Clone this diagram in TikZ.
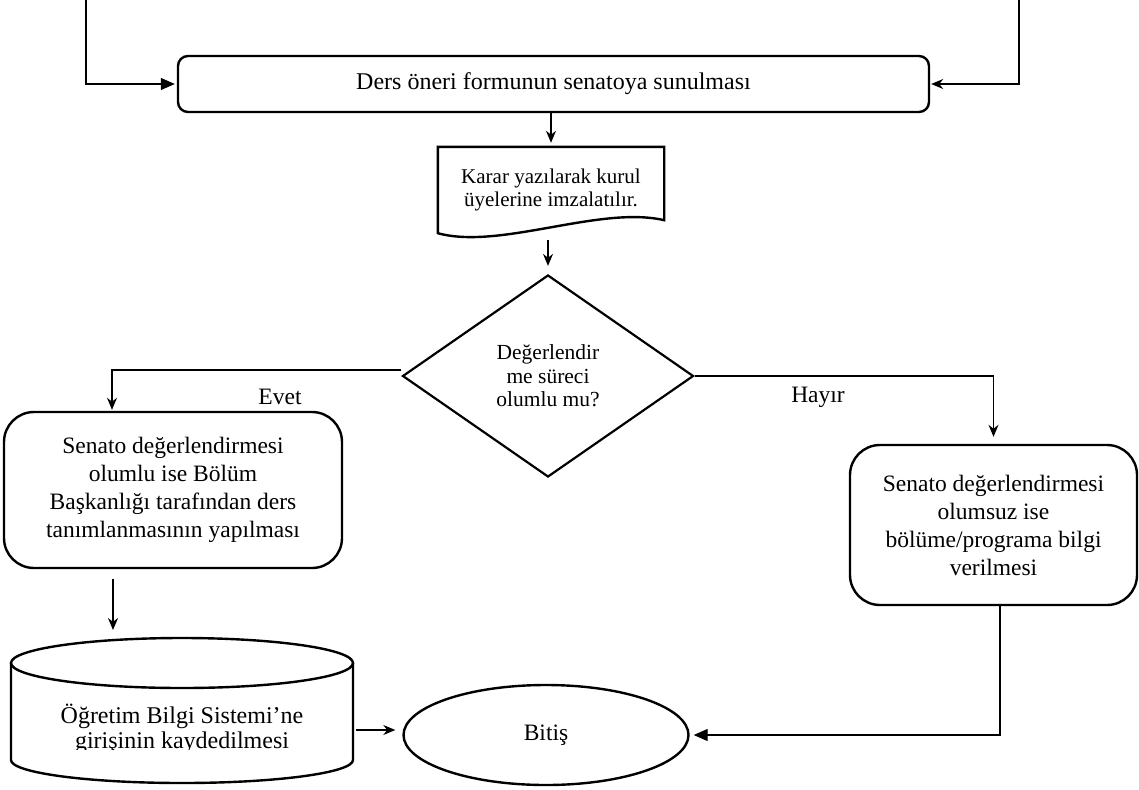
\documentclass[tikz,border=0pt]{standalone}
\usepackage{fontspec}
\setmainfont{Liberation Serif}
\usetikzlibrary{arrows.meta,shapes.geometric}

\begin{document}
\begin{tikzpicture}[x=1pt,y=1pt,
    box/.style={draw,line width=2.4pt,rounded corners=30pt,align=center,font=\fontsize{23.5}{28}\selectfont},
    arr/.style={-{Stealth[length=12pt,width=10pt]},line width=1.2pt},
    tri/.style={-{Triangle[length=14pt,width=12pt]},line width=1.2pt},
    yazi/.style={font=\fontsize{23.5}{28}\selectfont}]
\useasboundingbox (0,0) rectangle (1139,-789);
% sunum
\node[box,rounded corners=10pt,minimum width=751pt,minimum height=56pt,font=\fontsize{24}{28}\selectfont] (sunum) at (553.5,-84) {Ders öneri formunun senatoya sunulması};
\coordinate (gsol) at (86,0); %sol giris
\coordinate (gsag) at (1019,0); %sag giris
\draw[tri,shorten >=2pt] (gsol) |- (sunum.west);
\draw[arr,shorten >=1pt] (gsag) |- (sunum.east);
% karar (belge)
\node[align=center,minimum width=226pt,minimum height=86pt,font=\fontsize{21}{23.5}\selectfont] (karar) at (551,-190) {Karar yazılarak kurul\\üyelerine imzalatılır.};
\draw[line width=2.4pt] (karar.north west) -- (karar.north east) -- ([yshift=13pt]karar.south east) .. controls ([xshift=162pt,yshift=28pt]karar.south west) and ([xshift=62pt,yshift=-17pt]karar.south west) .. (karar.south west) -- cycle;
\draw[arr,shorten >=4pt] (karar.north |- sunum.south) -- (karar.north);
% soru
\node[diamond,draw,line width=2.2pt,aspect=1.44,minimum width=291pt,minimum height=202pt,inner sep=0pt,align=center,font=\fontsize{21.5}{23.5}\selectfont] (soru) at (548,-376) {Değerlendir\\me süreci\\olumlu mu?};
\draw[arr,shorten <=7pt,shorten >=8pt] (soru.north |- karar.south) -- (soru.north);
% evet
\node[box,minimum width=338pt,minimum height=156pt] (evet) at (173,-490) {Senato değerlendirmesi\\olumlu ise Bölüm\\Başkanlığı tarafından ders\\tanımlanmasının yapılması};
\draw[arr,shorten >=1pt] ([yshift=6pt]soru.west) -| ([xshift=-61pt]evet.north);
\node[yazi] (evetyazi) at (280,-397) {Evet};
% hayir
\node[box,minimum width=287pt,minimum height=160pt] (hayir) at (993.5,-525) {Senato değerlendirmesi\\olumsuz ise\\bölüme/programa bilgi\\verilmesi};
\draw[arr,shorten >=7pt] (soru.east) -| (hayir.north);
\node[yazi] (hayiryazi) at (818,-397) {Hayır};
% obs (silindir)
\coordinate (obsust) at (182,-638);
\draw[line width=2.4pt] (182,-663) ellipse [x radius=171pt,y radius=25pt];
\draw[line width=2.4pt] (11,-663) -- (11,-760) arc[start angle=180,end angle=360,x radius=171pt,y radius=23pt] -- (353,-663);
\begin{scope}
\clip (11,-690) rectangle (353,-749);
\node[align=center,font=\fontsize{24}{25}\selectfont] (obs) at (182,-729) {Öğretim Bilgi Sistemi’ne\\girişinin kaydedilmesi};
\end{scope}
\draw[arr,shorten <=10pt,shorten >=8pt] ([xshift=-60pt]evet.south) -- ([xshift=-60pt]evet.south |- obsust);
% bitis
\node[ellipse,draw,line width=2.4pt,minimum width=285pt,minimum height=100pt,inner sep=0pt,yazi] (bitis) at (546,-735) {Bitiş};
\draw[arr] ([xshift=-46pt,yshift=5pt]bitis.west) -- ([xshift=-7pt,yshift=5pt]bitis.west);
\draw[tri,shorten >=4pt] ([xshift=6.5pt]hayir.south) |- (bitis.east);
\end{tikzpicture}
\end{document}
